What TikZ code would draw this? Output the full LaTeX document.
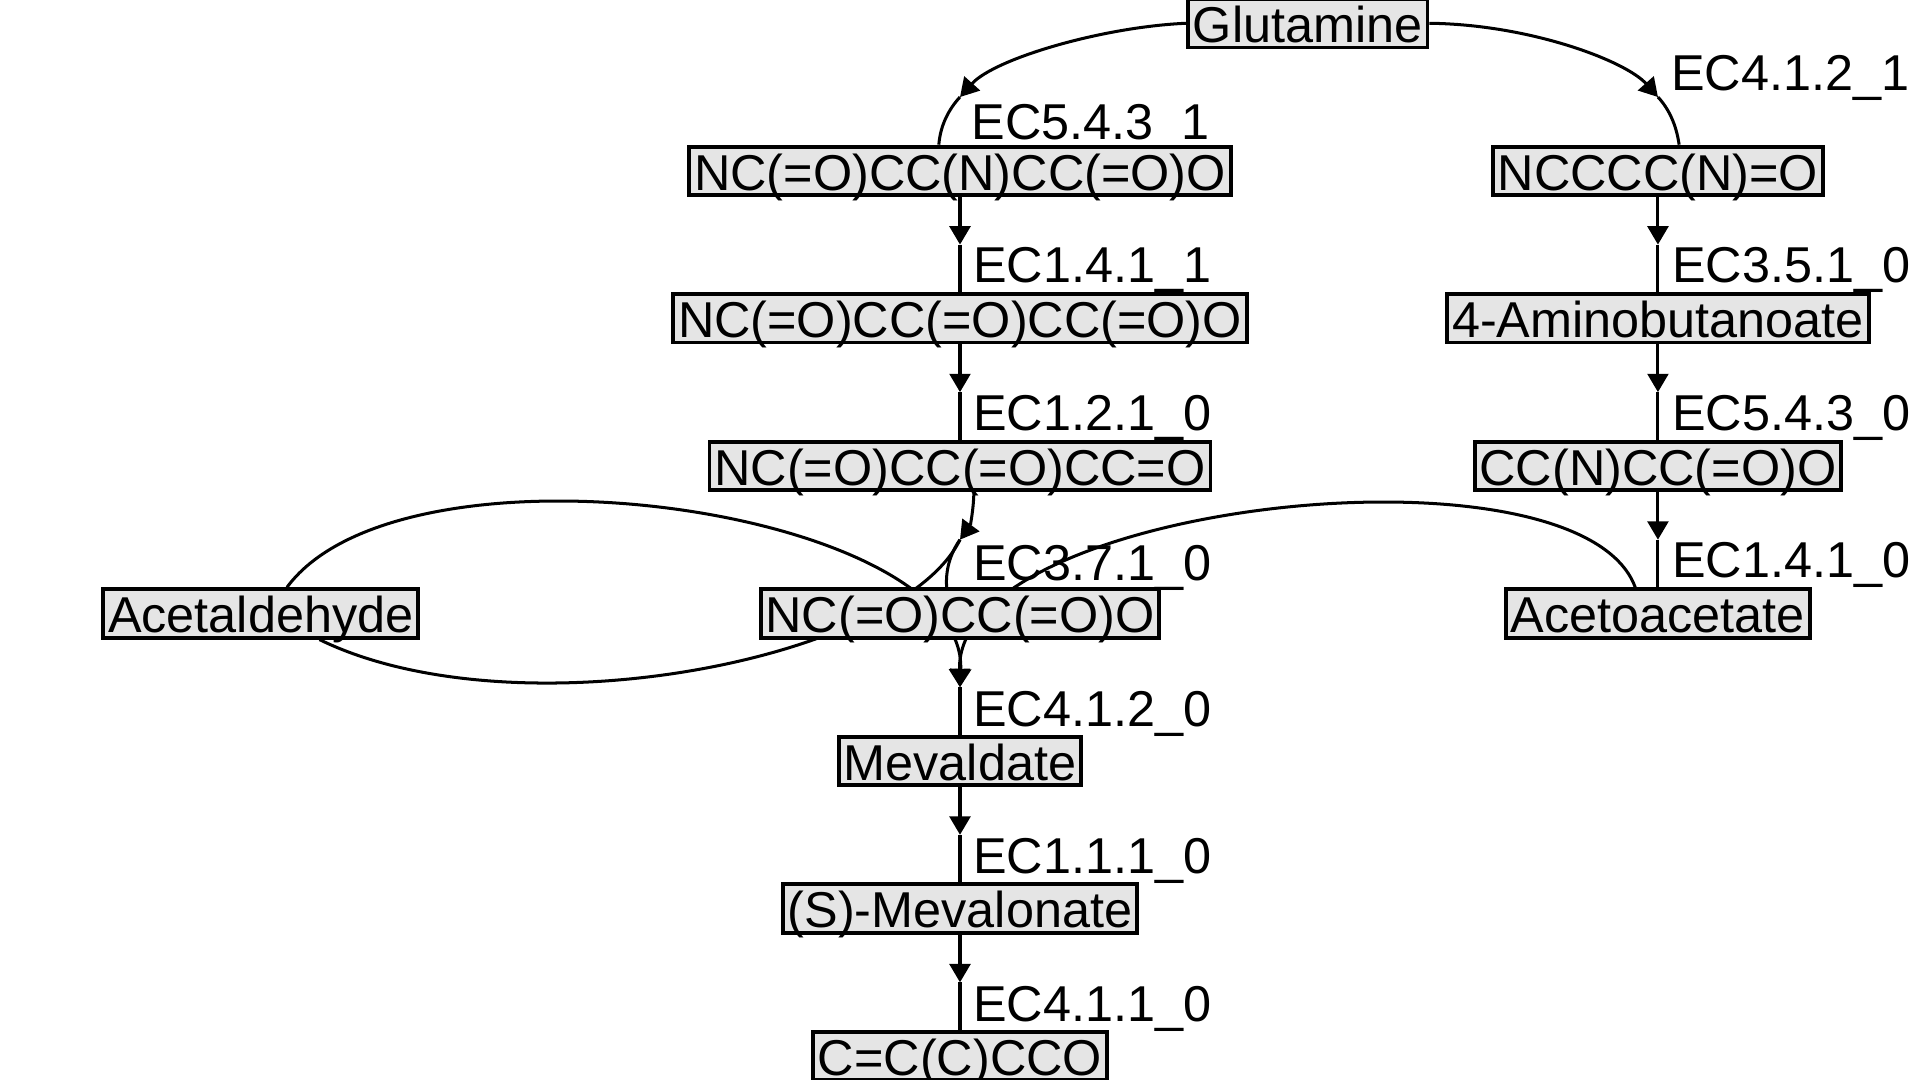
\documentclass[tikz,border=0pt]{standalone}
\usepackage{fontspec}
\setmainfont{Liberation Sans}
\usetikzlibrary{arrows.meta}
\usetikzlibrary{backgrounds}

\definecolor{boxgray}{HTML}{E5E5E5}
\tikzset{
	cpd/.style={draw, line width=0.9pt, fill=boxgray, inner xsep=0.04cm, inner ysep=0pt, text height=0.355cm, text depth=0.04cm},
	ec/.style={anchor=base west, inner sep=0pt},
	rxnin/.style={line width=0.7pt, -{Triangle[length=0.15cm, width=0.17cm]}},
	rxnout/.style={line width=0.7pt},
}

\begin{document}
\begin{tikzpicture}[x=0.01cm, y=0.01cm, font=\fontsize{11.7}{14}\selectfont]
	\useasboundingbox (0,0) rectangle (1568,-882);

	% compounds
	\node[cpd] (glu) at (1068,-19) {Glutamine};
	\node[cpd] (amd) at (784,-139.5) {NC(=O)CC(N)CC(=O)O};
	\node[cpd] (ncc) at (1354,-139.5) {NCCCC(N)=O};
	\node[cpd] (oxo) at (784,-260) {NC(=O)CC(=O)CC(=O)O};
	\node[cpd] (gaba) at (1354,-260) {4-Aminobutanoate};
	\node[cpd] (ald) at (784,-380.5) {NC(=O)CC(=O)CC=O};
	\node[cpd] (amb) at (1354,-380.5) {CC(N)CC(=O)O};
	\node[cpd] (ace) at (213,-501) {Acetaldehyde};
	\node[cpd] (oxa) at (784,-501) {NC(=O)CC(=O)O};
	\node[cpd] (aca) at (1354,-501) {Acetoacetate};
	\node[cpd] (mev) at (784,-621.5) {Mevaldate};
	\node[cpd] (smev) at (784,-742) {(S)-Mevalonate};
	\node[cpd] (ole) at (784,-862.5) {C=C(C)CCO};

	% reaction points
	\coordinate (r1) at (784,-79.25);
	\coordinate (r2) at (1354,-79.25);
	\coordinate (r3) at (784,-199.75);
	\coordinate (r4) at (1354,-199.75);
	\coordinate (r5) at (784,-320.25);
	\coordinate (r6) at (1354,-320.25);
	\coordinate (r7) at (784,-440.75);
	\coordinate (r8) at (1354,-440.75);
	\coordinate (r9) at (784,-561.25);
	\coordinate (r10) at (784,-681.75);
	\coordinate (r11) at (784,-802.25);

	% edges, behind the boxes
	\begin{scope}[on background layer]
		\draw[rxnin] (glu.west) .. controls (900,-22) and (812,-48) .. (r1);
		\draw[rxnout] (r1) .. controls (775,-89) and (768,-102) .. (amd.129);
		\draw[rxnin] (glu.east) .. controls (1250,-20) and (1328,-50) .. (r2);
		\draw[rxnout] (r2) .. controls (1363,-89) and (1369,-102) .. (ncc.51);

		\draw[rxnin] (amd) -- (r3);
		\draw[rxnout] (r3) -- (oxo);
		\draw[rxnin] (ncc) -- (r4);
		\draw[rxnout] (r4) -- (gaba);
		\draw[rxnin] (oxo) -- (r5);
		\draw[rxnout] (r5) -- (ald);
		\draw[rxnin] (gaba) -- (r6);
		\draw[rxnout] (r6) -- (amb);

		\draw[rxnin] (ald.-62) .. controls (795,-418) and (792,-430) .. (r7);
		\draw[rxnout] (r7) .. controls (776,-452) and (772,-466) .. (oxa.117);
		\draw[rxnout] (r7) .. controls (735,-540) and (420,-600) .. (ace.-24);
		\draw[rxnin] (amb) -- (r8);
		\draw[rxnout] (r8) -- (aca);

		\draw[rxnin] (ace.45) .. controls (330,-350) and (790,-415) .. (r9);
		\draw[rxnin] (aca.131) .. controls (1290,-355) and (780,-410) .. (r9);
		\draw[rxnout] (r9) -- (mev);
		\draw[rxnin] (mev) -- (r10);
		\draw[rxnout] (r10) -- (smev);
		\draw[rxnin] (smev) -- (r11);
		\draw[rxnout] (r11) -- (ole);
	\end{scope}

	% enzyme labels
	\node[ec] (ec1) at (793,-114) {EC5.4.3\_1};
	\node[ec] (ec2) at (1364,-74) {EC4.1.2\_1};
	\node[ec] (ec3) at (794,-231) {EC1.4.1\_1};
	\node[ec] (ec4) at (1365,-231) {EC3.5.1\_0};
	\node[ec] (ec5) at (794,-351.5) {EC1.2.1\_0};
	\node[ec] (ec6) at (1365,-351.5) {EC5.4.3\_0};
	\node[ec] (ec7) at (794,-474) {EC3.7.1\_0};
	\node[ec] (ec8) at (1365,-472) {EC1.4.1\_0};
	\node[ec] (ec9) at (794,-593) {EC4.1.2\_0};
	\node[ec] (ec10) at (794,-713.5) {EC1.1.1\_0};
	\node[ec] (ec11) at (794,-834.5) {EC4.1.1\_0};
\end{tikzpicture}
\end{document}
